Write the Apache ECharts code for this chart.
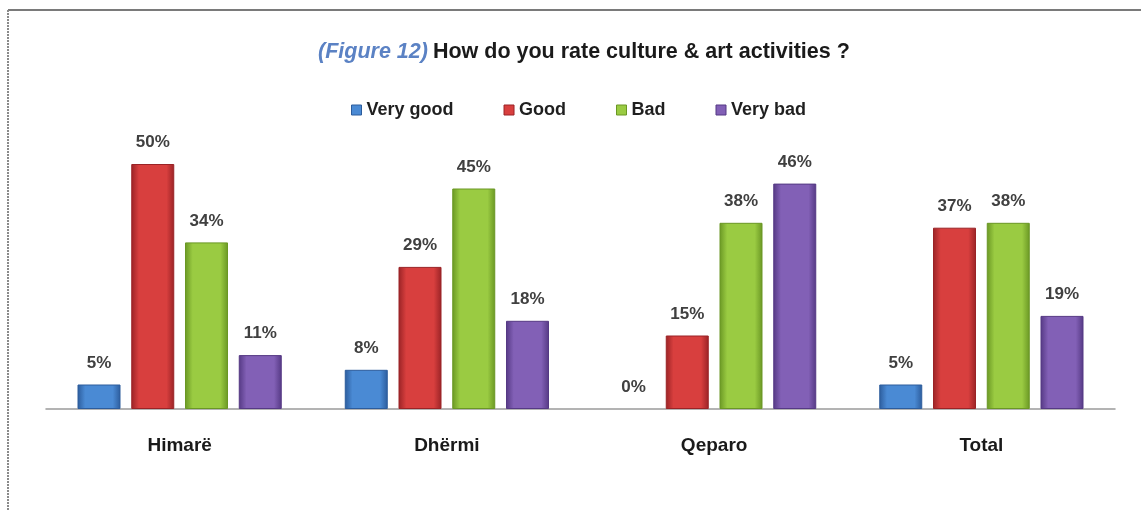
<!DOCTYPE html>
<html>
<head>
<meta charset="utf-8">
<script src="https://cdn.jsdelivr.net/npm/echarts@6/dist/echarts.min.js"></script>
<style>
  html, body { margin: 0; padding: 0; background: #fff; }
  #chart { width: 1141px; height: 510px; }
</style>
</head>
<body>
<div id="chart"></div>
<script>
// Survey results per village, in percent
const categories = ['Himarë', 'Dhërmi', 'Qeparo', 'Total'];
const seriesNames = ['Very good', 'Good', 'Bad', 'Very bad'];
const veryGood = [5, 8, 0, 5];
const good = [50, 29, 15, 37];
const bad = [34, 45, 38, 38];
const veryBad = [11, 18, 46, 19];

const seriesValues = [veryGood, good, bad, veryBad];
// [edge, centre] shades for the bevelled bar look
const palette = [
  ['#2c5c9c', '#4a8ad4'],
  ['#9a2326', '#d83f3e'],
  ['#6a9724', '#9acb42'],
  ['#553984', '#8260b6']
];

const font = '"Liberation Sans", "DejaVu Sans", Arial, sans-serif';

function barColor(p) {
  return new echarts.graphic.LinearGradient(0, 0, 1, 0, [
    { offset: 0, color: p[0] },
    { offset: 0.18, color: p[1] },
    { offset: 0.82, color: p[1] },
    { offset: 1, color: p[0] }
  ]);
}

const chart = echarts.init(document.getElementById('chart'));
chart.setOption({
  backgroundColor: '#ffffff',
  animation: false,
  title: {
    text: '{fig|(Figure 12)} {main|How do you rate culture & art activities ?}',
    left: 313,
    top: 36,
    textStyle: {
      rich: {
        fig: { fontFamily: font, fontSize: 21.5, fontStyle: 'italic', color: '#5b82c4' },
        main: { fontFamily: font, fontSize: 21.5, fontWeight: 'bold', color: '#1a1a1a' }
      }
    }
  },
  legend: {
    top: 96,
    left: 346,
    itemWidth: 10,
    itemHeight: 10,
    itemGap: 50,
    icon: 'rect',
    textStyle: { fontFamily: font, fontSize: 18, fontWeight: 'bold', color: '#1f1f1f' },
    data: seriesNames.map((n, i) => ({ name: n, itemStyle: { color: palette[i][1], borderColor: palette[i][0], borderWidth: 1 } }))
  },
  grid: { left: 46, right: 26, top: 115, bottom: 101 },
  xAxis: {
    type: 'category',
    data: categories,
    axisLine: { lineStyle: { color: '#9a9a9a', width: 1.5 } },
    axisTick: { show: false },
    axisLabel: { fontFamily: font, fontSize: 19, fontWeight: 'bold', color: '#1a1a1a', margin: 27 }
  },
  yAxis: {
    type: 'value',
    min: 0,
    max: 60,
    show: false,
    splitLine: { show: false }
  },
  graphic: [
    { type: 'line', shape: { x1: 8, y1: 10, x2: 1141, y2: 10 }, style: { stroke: '#7a7a7a', lineWidth: 2 } },
    { type: 'line', shape: { x1: 8, y1: 10, x2: 8, y2: 510 }, style: { stroke: '#8a8a8a', lineWidth: 2, lineDash: [2, 1] } }
  ],
  series: seriesValues.map((vals, i) => ({
    name: seriesNames[i],
    type: 'bar',
    // a zero value keeps its label but draws no outline
    data: vals.map(v => (v === 0 ? { value: v, itemStyle: { borderWidth: 0 } } : v)),
    barWidth: 43,
    barGap: '25%',
    itemStyle: { color: barColor(palette[i]), borderColor: palette[i][0], borderWidth: 1 },
    label: {
      show: true,
      position: 'top',
      distance: 13,
      formatter: '{c}%',
      fontFamily: font,
      fontSize: 17,
      fontWeight: 'bold',
      color: '#404040'
    }
  }))
});
</script>
</body>
</html>
